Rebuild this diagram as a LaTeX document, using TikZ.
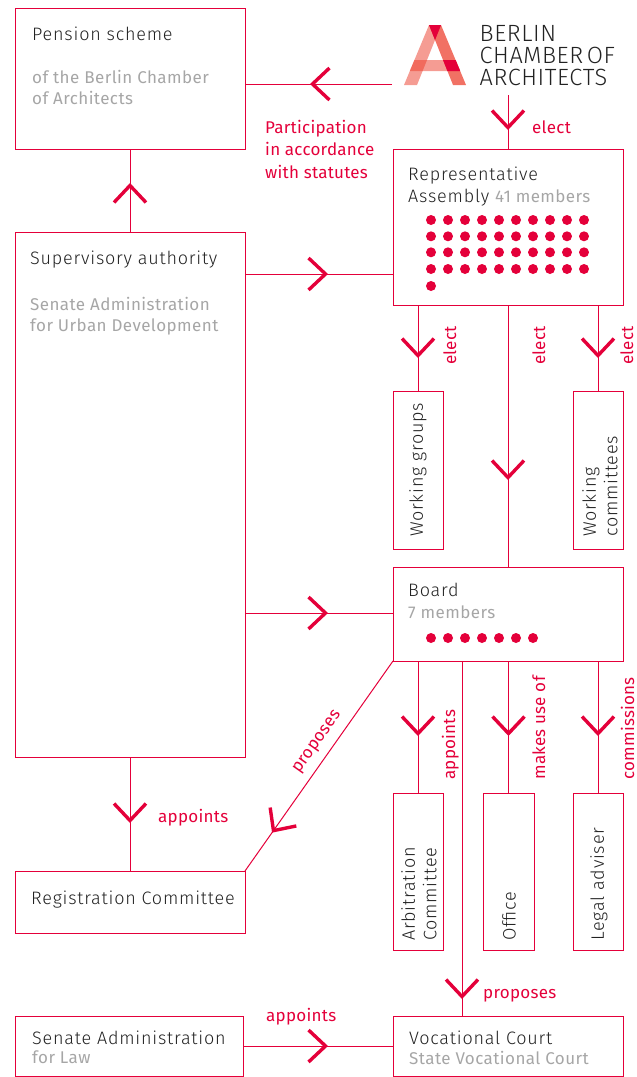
\documentclass[tikz,border=0pt]{standalone}
\usepackage{fontspec}
\setmainfont{Fira Sans Light}[LetterSpace=4.4]
\newfontfamily\bookfont{Fira Sans}[LetterSpace=2.5]
\newfontfamily\logofont{Fira Sans Light}[LetterSpace=2.5]
\newfontfamily\labfont{Fira Sans}[LetterSpace=1.5]
\usetikzlibrary{arrows.meta,decorations.markings}
\definecolor{akred}{HTML}{E4003A}
\definecolor{aksalmon}{HTML}{EC3A28}
\definecolor{akgray}{HTML}{A6A6A6}
\definecolor{akink}{HTML}{222222}
\newcommand{\grey}[1]{\textcolor{akgray}{\fontsize{17}{21.5}\selectfont\bookfont #1}}
\tikzset{
  box/.style={rectangle, draw=akred, line width=1pt, anchor=north west, inner sep=0pt, outer sep=0pt},
  txt/.style={anchor=north west, inner sep=0pt, align=left, text=akink, font=\fontsize{18}{21.5}\selectfont},
  sub/.style={txt, text=akgray, font=\fontsize{17}{21.5}\selectfont\bookfont},
  lab/.style={anchor=base west, inner sep=0pt, text=akred, font=\fontsize{17}{22.5}\selectfont\labfont},
  dot/.style={circle, fill=akred, inner sep=0pt, minimum size=10pt},
  link/.style={draw=akred, line width=1pt},
  tip/.style={postaction={decorate, decoration={markings, mark=at position #1 with {\arrow{Straight Barb[length=17pt, width=32pt, line width=3.4pt]}}}}}
}
\begin{document}
\begin{tikzpicture}[x=1pt, y=-1pt]
  \useasboundingbox (0,0) rectangle (637,1077);
  % boxes
  \node[box, minimum width=230pt, minimum height=141pt] (pension) at (15,8) {};
  \node[box, minimum width=230pt, minimum height=525pt] (supervisory) at (15,232) {};
  \node[box, minimum width=230pt, minimum height=62pt] (registration) at (15,871) {};
  \node[box, minimum width=228pt, minimum height=60pt] (senate) at (15,1016) {};
  \node[box, minimum width=230pt, minimum height=156pt] (assembly) at (393,149) {};
  \node[box, minimum width=50pt, minimum height=158pt] (groups) at (393,391) {};
  \node[box, minimum width=50pt, minimum height=158pt] (committees) at (573,391) {};
  \node[box, minimum width=230pt, minimum height=94pt] (board) at (393,567) {};
  \node[box, minimum width=50pt, minimum height=157pt] (arbitration) at (393,793) {};
  \node[box, minimum width=51pt, minimum height=157pt] (office) at (483,793) {};
  \node[box, minimum width=50pt, minimum height=157pt] (legal) at (573,793) {};
  \node[box, minimum width=230pt, minimum height=60pt] (court) at (393,1016) {};
  % logo
  \fill[aksalmon, fill opacity=.5] (429,25) -- (441,25) -- (417,85) -- (404,85) -- cycle;
  \fill[aksalmon, fill opacity=.72] (429,25) -- (441,25) -- (466,85) -- (453,85) -- cycle;
  \fill[aksalmon, fill opacity=.5] (414.4,60) -- (455.6,60) -- (460.2,71) -- (409.8,71) -- cycle;
  \fill[akred] (429,25) -- (441,25) -- (435,40) -- cycle;
  \fill[akred] (443,60) -- (455.6,60) -- (460.2,71) -- (447.4,71) -- cycle;
  \node[txt, font=\fontsize{23.5}{22}\selectfont\logofont] (logotext) at (479.5,25.5) {BERLIN\\CHAMBER\kern-3.5pt{} OF\\ARCHITECTS};
  \coordinate (logoleft) at (392,84);
  \coordinate (logobottom) at (508,95);
  % box texts
  \node[txt] (pensiontitle) at (32,27) {Pension scheme};
  \node[sub] (pensionsub) at (32,70) {of the Berlin Chamber\\of Architects};
  \node[txt] (supervisorytitle) at (30,251) {Supervisory authority};
  \node[sub] (supervisorysub) at (30,297) {Senate Administration\\for Urban Development};
  \node[txt] (assemblytitle) at (408,167) {Representative\\Assembly \grey{41 members}};
  \node[txt] (boardtitle) at (408,583) {Board\\\grey{7 members}};
  \node[txt] (registrationtitle) at (31,891) {Registration Committee};
  \node[txt] (senatetitle) at (32,1031) {Senate Administration};
  \node[sub] (senatesub) at (32,1051) {for Law};
  \node[txt] (courttitle) at (409,1031) {Vocational Court};
  \node[sub] (courtsub) at (409,1051) {State Vocational Court};
  \node[txt, rotate=90, anchor=west] (groupstitle) at (418,537) {Working groups};
  \node[txt, rotate=90, anchor=west] (committeestitle) at (600,537) {Working\\committees};
  \node[txt, rotate=90, anchor=west] (arbitrationtitle) at (419,941) {Arbitration\\Committee};
  \node[txt, rotate=90, anchor=west] (officetitle) at (509,941) {Office};
  \node[txt, rotate=90, anchor=west] (legaltitle) at (599,941) {Legal adviser};
  % dots
  \foreach \row/\y in {1/220, 2/236.3, 3/252.3, 4/269}
    \foreach \col in {0,...,9}
      \node[dot] (a\row\col) at ({431+17*\col},\y) {};
  \node[dot] (a50) at (431,286) {};
  \foreach \col in {0,...,6}
    \node[dot] (b\col) at ({431+17*\col},638) {};
  % connectors
  \path[link, tip=82pt] (logoleft) -- (logoleft -| pension.east);
  \path[link, tip=35pt] (logobottom) -- (logobottom |- assembly.north);
  \path[link, tip=49pt] (supervisory.north) -- (pension.south);
  \path[link, tip=83pt] (supervisory.east |- 0,274) -- (assembly.west |- 0,274);
  \path[link, tip=83pt] (supervisory.east |- 0,613) -- (board.west |- 0,613);
  \path[link, tip=175pt] (assembly.south) -- (board.north);
  \path[link, tip=53pt] (assembly.south -| groups.north) -- (groups.north);
  \path[link, tip=53pt] (assembly.south -| committees.north) -- (committees.north);
  \path[link, tip=75pt] (board.south -| arbitration.north) -- (arbitration.north);
  \path[link, tip=338pt] (board.south -| 462,0) -- (court.north -| 462,0);
  \path[link, tip=75pt] (board.south -| office.north) -- (office.north);
  \path[link, tip=75pt] (board.south -| legal.north) -- (legal.north);
  \path[link, tip=66pt] (supervisory.south) -- (registration.north);
  \path[link, tip=210pt] (board.south west) -- (registration.north east);
  \path[link, tip=85pt] (senate.east) -- (court.west);
  % labels
  \node[lab] (electtop) at (532,133) {elect};
  \node[lab, align=left, anchor=north west] (statutes) at (265,120) {Participation\\in accordance\\with statutes};
  \node[lab, rotate=90] (electa) at (456,365) {elect};
  \node[lab, rotate=90] (electb) at (545,365) {elect};
  \node[lab, rotate=90] (electc) at (633,365) {elect};
  \node[lab, rotate=90] (boardappoints) at (455,780) {appoints};
  \node[lab, rotate=90] (makesuse) at (545,780) {makes use of};
  \node[lab, rotate=90] (commissions) at (634,780) {commissions};
  \node[lab, rotate=55] (proposeslink) at (299,774) {proposes};
  \node[lab] (regappoints) at (158,822) {appoints};
  \node[lab] (courtproposes) at (483,998) {proposes};
  \node[lab] (senateappoints) at (266,1021) {appoints};
\end{tikzpicture}
\end{document}
